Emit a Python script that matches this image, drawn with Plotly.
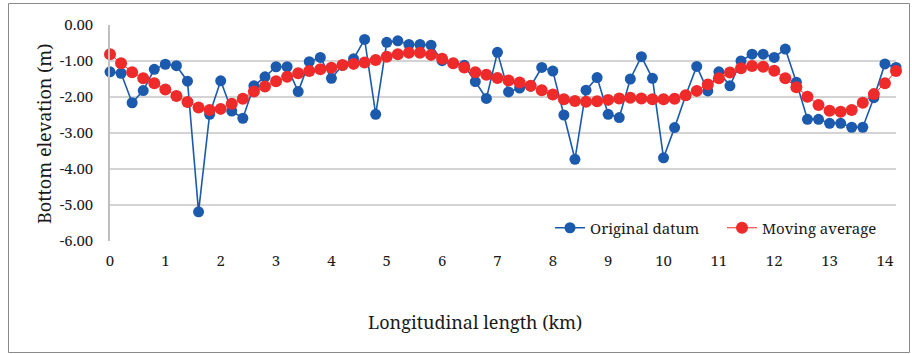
import plotly.graph_objects as go

# Longitudinal positions (km), 0.2 km spacing
length_km = [round(i * 0.2, 1) for i in range(72)]

original_datum = [
    -1.30, -1.34, -2.16, -1.82, -1.23, -1.09, -1.13, -1.56, -5.19, -2.48,
    -1.55, -2.39, -2.59, -1.69, -1.44, -1.16, -1.16, -1.85, -1.02, -0.90,
    -1.48, -1.12, -0.94, -0.40, -2.48, -0.48, -0.44, -0.54, -0.54, -0.56,
    -0.99, -1.06, -1.12, -1.57, -2.04, -0.76, -1.86, -1.75, -1.70, -1.18,
    -1.28, -2.50, -3.73, -1.81, -1.46, -2.48, -2.57, -1.50, -0.88, -1.48,
    -3.69, -2.85, -1.96, -1.15, -1.83, -1.30, -1.69, -1.00, -0.81, -0.81,
    -0.90, -0.67, -1.59, -2.62, -2.62, -2.73, -2.73, -2.84, -2.84, -2.02,
    -1.08, -1.18,
]

moving_average = [
    -0.81, -1.06, -1.31, -1.48, -1.62, -1.79, -1.97, -2.14, -2.29, -2.36,
    -2.33, -2.19, -2.05, -1.85, -1.71, -1.56, -1.44, -1.34, -1.28, -1.23,
    -1.19, -1.11, -1.08, -1.04, -0.97, -0.88, -0.81, -0.77, -0.77, -0.83,
    -0.94, -1.06, -1.18, -1.31, -1.38, -1.47, -1.54, -1.60, -1.69, -1.81,
    -1.93, -2.06, -2.11, -2.13, -2.12, -2.08, -2.04, -2.02, -2.04, -2.06,
    -2.06, -2.05, -1.95, -1.83, -1.65, -1.48, -1.32, -1.20, -1.14, -1.16,
    -1.27, -1.48, -1.73, -1.99, -2.22, -2.38, -2.41, -2.36, -2.16, -1.92,
    -1.62, -1.28,
]

x_ticks = list(range(0, 15))
y_ticks = [0, -1, -2, -3, -4, -5, -6]

FONT = "Noto Serif"
BLUE = "#1c5aad"
RED = "#ee2a2a"
TXT = "#1a1a1a"

fig = go.Figure()
fig.add_trace(go.Scatter(
    x=length_km, y=original_datum, name="Original datum", mode="lines+markers",
    line=dict(color=BLUE, width=1.6),
    marker=dict(color=BLUE, size=11),
    cliponaxis=False,
))
fig.add_trace(go.Scatter(
    x=length_km, y=moving_average, name="Moving average", mode="lines+markers",
    line=dict(color=RED, width=1),
    marker=dict(color=RED, size=12),
    cliponaxis=False,
))

L, R, T, B = 110, 16, 25, 113
W, H = 912, 354
pw, ph = W - L - R, H - T - B

def px(xp):
    return (xp - L) / pw

def py(yp):
    return (H - B - yp) / ph

fig.update_layout(
    width=W, height=H,
    margin=dict(l=L, r=R, t=T, b=B, autoexpand=False),
    paper_bgcolor="white", plot_bgcolor="white",
    font=dict(family=FONT, size=15, color=TXT),
    showlegend=True,
    legend=dict(
        orientation="h", x=px(550), xanchor="left", y=py(228), yanchor="middle",
        bgcolor="rgba(255,255,255,0)", font=dict(family=FONT, size=15, color=TXT),
        tracegroupgap=0, entrywidth=127,
    ),
    xaxis=dict(
        range=[0, 14.2], tickvals=x_ticks, ticktext=[str(v) for v in x_ticks],
        showgrid=False, zeroline=False, showline=False, ticks="",
        ticklabelstandoff=9, tickfont=dict(family=FONT, size=15, color=TXT),
    ),
    yaxis=dict(
        range=[-6, 0], tickvals=y_ticks, ticktext=[f"{v:.2f}" for v in y_ticks],
        showgrid=True, gridcolor="#d4d4d4", gridwidth=1.5,
        zeroline=False, showline=True, linecolor="#bfbfbf", linewidth=1.5,
        ticks="", ticklabelstandoff=12, tickfont=dict(family=FONT, size=15, color=TXT),
    ),
    annotations=[
        dict(text="Bottom elevation (m)", textangle=-90, xref="paper", yref="paper",
             x=px(44), y=py(134), showarrow=False, xanchor="center", yanchor="middle",
             font=dict(family=FONT, size=18, color=TXT)),
        dict(text="Longitudinal length (km)", xref="paper", yref="paper",
             x=px(475), y=py(322), showarrow=False, xanchor="center", yanchor="middle",
             font=dict(family=FONT, size=18, color=TXT)),
    ],
    shapes=[
        dict(type="rect", xref="paper", yref="paper",
             x0=px(8.5), x1=px(909.5), y0=py(352.5), y1=py(3.5),
             line=dict(color="#8a8a8a", width=1), layer="below"),
    ],
)

fig.write_html("out.html")
